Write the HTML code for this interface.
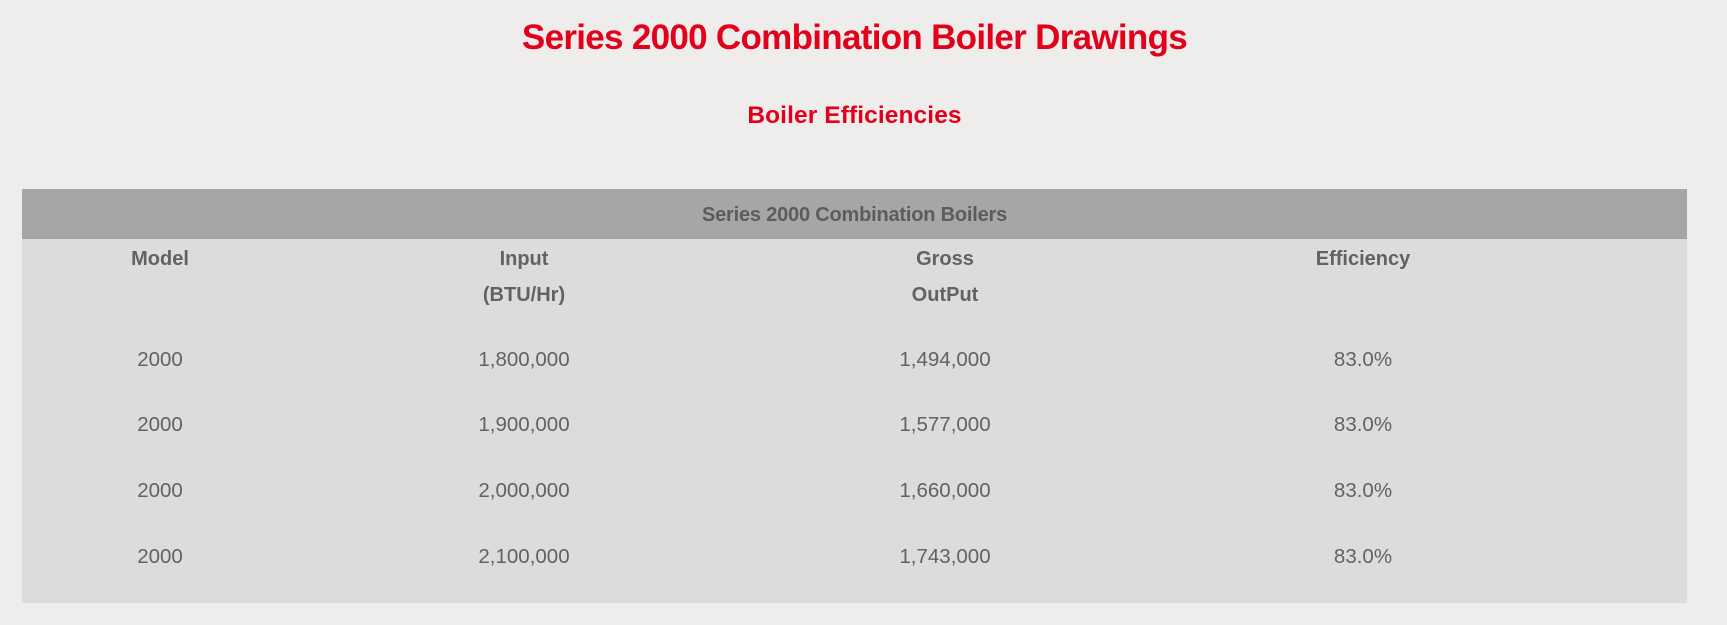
<!DOCTYPE html>
<html>
<head>
<meta charset="utf-8">
<style>
  html, body { margin:0; padding:0; }
  body { width:1727px; height:625px; background:#eeedeb; position:relative; overflow:hidden;
         font-family:"Liberation Sans", Arial, sans-serif; }
  .t { position:absolute; white-space:nowrap; line-height:1; }
  .c { text-align:center; }
  #title { left:0; width:1709px; top:20px; font-size:35px; font-weight:bold; color:#e2001a; letter-spacing:-0.7px; }
  #sub { left:0; width:1709px; top:104px; font-size:24.5px; font-weight:bold; color:#e2001a; letter-spacing:0.1px; }
  #bar { position:absolute; left:22px; top:189px; width:1665px; height:50px; background:#a6a6a6; }
  #body { position:absolute; left:22px; top:239px; width:1665px; height:364px; background:#dcdcdc; }
  #bartext { left:0; width:1709px; top:205px; font-size:20px; font-weight:bold; color:#5c5c5c; letter-spacing:-0.2px; }
  .h { font-size:20px; font-weight:bold; color:#626262; width:300px; margin-left:-150px; text-align:center; }
  .d { font-size:20.5px; color:#626262; width:300px; margin-left:-150px; text-align:center; }
</style>
</head>
<body>
  <div class="t c" id="title">Series 2000 Combination Boiler Drawings</div>
  <div class="t c" id="sub">Boiler Efficiencies</div>

  <div id="bar"></div>
  <div id="body"></div>
  <div class="t c" id="bartext">Series 2000 Combination Boilers</div>

  <div class="t h" style="left:160px; top:249px;">Model</div>
  <div class="t h" style="left:524px; top:249px;">Input</div>
  <div class="t h" style="left:524px; top:285px;">(BTU/Hr)</div>
  <div class="t h" style="left:945px; top:249px;">Gross</div>
  <div class="t h" style="left:945px; top:285px;">OutPut</div>
  <div class="t h" style="left:1363px; top:249px;">Efficiency</div>

  <div class="t d" style="left:160px; top:350px;">2000</div>
  <div class="t d" style="left:524px; top:350px;">1,800,000</div>
  <div class="t d" style="left:945px; top:350px;">1,494,000</div>
  <div class="t d" style="left:1363px; top:350px;">83.0%</div>

  <div class="t d" style="left:160px; top:415px;">2000</div>
  <div class="t d" style="left:524px; top:415px;">1,900,000</div>
  <div class="t d" style="left:945px; top:415px;">1,577,000</div>
  <div class="t d" style="left:1363px; top:415px;">83.0%</div>

  <div class="t d" style="left:160px; top:481px;">2000</div>
  <div class="t d" style="left:524px; top:481px;">2,000,000</div>
  <div class="t d" style="left:945px; top:481px;">1,660,000</div>
  <div class="t d" style="left:1363px; top:481px;">83.0%</div>

  <div class="t d" style="left:160px; top:547px;">2000</div>
  <div class="t d" style="left:524px; top:547px;">2,100,000</div>
  <div class="t d" style="left:945px; top:547px;">1,743,000</div>
  <div class="t d" style="left:1363px; top:547px;">83.0%</div>
</body>
</html>
